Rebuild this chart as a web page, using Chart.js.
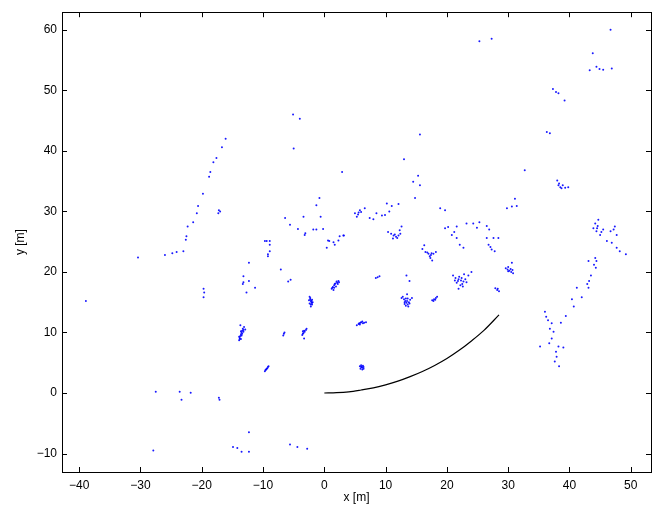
<!DOCTYPE html>
<html>
<head>
<meta charset="utf-8">
<script src="https://cdn.jsdelivr.net/npm/chart.js@4"></script>
<style>
html,body{margin:0;padding:0;background:#fff;}
#wrap{width:661px;height:510px;}
</style>
</head>
<body>
<div id="wrap"><canvas id="scanChart" width="661" height="510"></canvas></div>
<script>

/* DATA */

const xTicks = [-40,-30,-20,-10,0,10,20,30,40,50];
const yTicks = [-10,0,10,20,30,40,50,60];

// vehicle path
const pathX = [0,2,4,6,8,10,12,14,16,18,20,22,24,26,28.5];
const pathY = [0,0.05,0.2,0.5,0.85,1.35,1.95,2.7,3.55,4.55,5.7,7.05,8.6,10.3,12.9];

// scan points, left part
const scanLeft = [
[-38.9,15.2],[-30.4,22.4],[-26,22.8],[-24.8,23.1],[-24.1,23.3],[-23,23.4],
[-22.6,25.3],[-22.5,25.9],[-22.3,27.5],[-21.4,28.2],[-20.8,29.7],[-20.6,30.9],
[-19.8,32.9],[-18.8,35.7],[-18.6,36.5],[-18.1,38.1],[-17.6,38.8],[-16.7,40.6],[-16.1,42],
[-17.2,30.2],[-17.3,29.7],[-17,30],
[-19.7,17.2],[-19.6,16.6],[-19.7,15.8],
[-27.5,0.2],[-23.6,0.2],[-23.3,-1.1],[-21.8,0.05],[-17.2,-0.8],[-17.1,-1.1],
[-27.9,-9.5],[-14.9,-8.9],[-13.5,-9.7],[-12.3,-9.7],[-12.3,-6.5],[-5.6,-8.5],[-4.4,-8.9],[-2.8,-9.2],[-14.2,-9.1],
[-13.9,8.7],[-13.8,9.1],[-13.7,9.4],[-13.6,9.7],[-13.5,10],[-13.4,10.3],[-13.3,10.6],
[-13.1,10.9],[-13.6,8.9],[-13.2,10.1],[-12.9,10.5],[-13.7,11.2],
[-13.8,8.9],[-13.5,9.5],[-13.4,9.8],[-13.2,10.4],[-13.6,10.2],[-13.9,9.3],
[-9.7,3.6],[-9.5,3.9],[-9.3,4.1],[-9.1,4.4],[-9.6,3.8],[-9.4,4],[-9.2,4.3],
[-6.7,9.5],[-6.6,9.8],[-6.5,10],
[-3.6,9.6],[-3.4,9.9],[-3.2,10.1],[-3,10.4],[-3.5,10.2],[-2.9,10.6],[-3.3,9],[-3.3,10.3],[-3.5,9.8],
[-2.4,15.9],[-2.3,15.5],[-2.2,15.2],[-2.1,14.9],[-2,14.6],[-2.2,14.3],[-2,15.4],[-1.9,15],[-2.4,14.8],
[-2.3,15.7],[-2.1,15.2],[-2,14.9],[-2.2,14.6],[-2.5,15.3],
[-13.2,19.3],[-13.2,18.3],[-12.3,18.5],[-12.7,16.6],[-12.3,21.5],[-11.3,17.4],[-13.3,18],
[-9.7,25.1],[-8.9,25.1],[-9.4,25.1],[-8.9,24.5],[-9.2,22.9],[-8.9,23.4],[-9.2,22.6],
[-7.1,20.4],[-5.9,18.4],[-5.5,18.7],
[-5.1,46],[-4,45.3],[-5,40.4],
[-0.8,32.2],[-1.3,31],
[-6.4,28.9],[-5.6,27.8],[-4.3,27.1],[-3.4,29.1],[-3.2,26.1],[-3.1,26.4],[-0.6,29.1],[-1.8,27],[-1.3,27],[-0.2,27.1]
];

// scan points, middle part
const scanMid = [
[0.4,24],[0.6,25.2],[0.8,25.1],[1.5,24.9],[2.3,25.2],[3.1,26],[2.5,25.9],[3.2,26],[1.7,24.5],
[1.2,17.2],[1.4,17.5],[1.6,17.8],[1.8,18.1],[2,18.4],[2.2,18],[1.5,17],[2.3,18.5],[1.9,17.6],
[1.3,17.4],[1.7,18],[2.1,18.2],[1.6,17.4],[2.4,18.3],
[5.9,4],[6.1,4.3],[6.3,4.5],[6,4.6],[6.4,4],[6.2,3.9],[6,4.3],[6.2,4.2],[6.4,4.3],[5.8,4.4],
[5.3,11.2],[5.6,11.4],[5.9,11.6],[6.2,11.8],[6.5,11.6],[6.8,11.7],[5.8,11.3],[5.7,11.5],[6,11.7],[6.3,11.5],
[8.4,19],[8.7,19.1],[9,19.3],
[5,29.7],[5.8,30.2],[6.6,30.5],[5.3,29.1],[5.5,29.5],[5.6,29.8],[6,29.9],[7.4,28.9],[8,28.7],
[8.5,29.7],[9.4,29.3],[9.9,29.4],[10.2,31.3],[11,30.9],[12.1,31.2],[10.6,30],
[14.8,32.2],[15.6,34.3],[18.9,30.5],[19.7,30.2],
[13,38.6],[15.6,42.7],[14.5,34.9],[15.3,35.9],[2.9,36.5],
[10.4,26.6],[10.9,26.3],[11.3,26],[11.7,25.8],[12.1,26],[12.4,26.3],[11.2,25.5],[12.6,27.5],[12.3,26.9],[11.5,26.2],[11.9,25.6],
[13.4,19.4],[13.9,18.5],
[12.8,15.9],[13,15.5],[13.2,15.2],[13.4,14.9],[13.6,14.6],[13.8,15],[14,15.4],[14.3,15.7],
[13.3,14.4],[13.7,14.3],[12.6,15.7],[13.5,16.3],
[13.1,15],[13.5,15.2],[13.3,15.6],[13.9,14.8],[13.6,15.6],[13.1,14.7],
[17.6,15.3],[17.9,15.5],[18.2,15.7],[18.4,15.9],[17.8,15.2],[18.1,15.4],
[16,23.8],[16.5,23.3],[17,23],[17.4,22.8],[17.8,23],[18.2,23.3],[17.3,22.3],[17.6,21.9],[16.3,24.4],
[17.2,22.6],[17.5,23.1],[16.8,23.2],
[19.7,27.2],[20.2,27.4],[21.6,27.5],[20.8,26.1],[21.6,25.6],[22.1,24.5],[22.7,24],[21.2,26.6],
[23.2,28],[24.3,28],[25.3,28.2],[24.9,27.3],[26.5,27.6],[26.9,27],
[26.5,25.6],[27.6,25.6],[28.4,25.6],[26.8,24.5],[27.3,23.7],[27.8,23.4],[27.1,24.1],
[21,19.4],[21.4,19],[21.9,18.8],[22.3,18.6],[22.7,18.4],[23.2,18.3],[21.6,18.2],
[22.2,17.8],[21.9,17.2],[22.6,17.6],[24,20],[23.5,19.4],[22.8,19.6],
[21.8,18.5],[22.5,18],[22,19.2],[21.3,18.6],[23,18.8],[22.4,19],
[29.6,20.6],[29.9,20.4],[30.2,20.2],[30.5,20],[30.8,19.8],[30.6,21.5],[30,20.8],[30,20.1],[30.4,20.5],[30.7,20.3],
[27.9,17.3],[28.2,17],[28.5,16.8],[28.3,17.2],
[29.8,30.5],[30.6,30.8],[31.4,30.9],[31.1,32.1],
[25.3,58.1],[27.3,58.5]
];

// scan points, right part
const scanRight = [
[46.7,60],[43.8,56.1],[43.3,53.3],[44.4,53.9],[45.5,53.4],[46.9,53.6],[44.9,53.5],
[37.3,50.2],[37.8,49.7],[38.2,49.5],[39.2,48.3],
[36.3,43.1],[36.8,42.9],[32.7,36.8],
[38,35.1],[38.2,34.3],[38.7,33.8],[39.3,33.9],[39.8,34],[38.5,34],[38.3,34.6],[38.9,34.3],
[44.7,28.6],[44.2,28],[43.9,27.2],[44.4,26.7],[45,26.1],[45.5,27],[46.7,26.7],[47.2,27],
[47.4,27.5],[47.7,26.1],[46.1,25.1],[46.9,24.8],[47.7,24],[48.2,23.4],[49.2,22.9],[44.6,27.6],[44.5,27.2],[45.2,26.6],
[44.2,22.3],[44.4,21.8],[44,21.2],[44.3,20.7],[43.1,21.8],
[43.5,19.4],[43.2,18.5],[42.9,18],[43.1,17.4],[41.2,17.4],[42,15.8],
[40.4,15.5],[40.7,14.3],[39.4,12.7],[38.6,11.6],
[36,13.4],[36.2,12.6],[36.5,12],[37.1,11.5],[36.8,10.6],[37.4,10.1],[37.1,9],[36.7,8.2],[35.2,7.7],
[38.2,7.7],[39,7.5],[37.8,6.8],[37.9,6],[37.6,5.2],[38.3,4.4]
];

const scanPoints = scanLeft.concat(scanMid, scanRight).map(p => ({x: p[0], y: p[1]}));
const pathPoints = pathX.map((v, i) => ({x: v, y: pathY[i]}));

const minus = v => v < 0 ? '\u2212' + Math.abs(v) : String(v);


/* FRAME AND INWARD TICKS */

const frame = {
id: 'frame',
afterDraw(chart) {
const {ctx, chartArea: a, scales: {x, y}} = chart;
const t = 5;
ctx.save();
ctx.strokeStyle = '#000';
ctx.lineWidth = 1;
ctx.beginPath();
xTicks.forEach(v => {
const px = Math.round(x.getPixelForValue(v)) + 0.5;
ctx.moveTo(px, a.bottom); ctx.lineTo(px, a.bottom - t);
ctx.moveTo(px, a.top); ctx.lineTo(px, a.top + t);
});
yTicks.forEach(v => {
const py = Math.round(y.getPixelForValue(v)) + 0.5;
ctx.moveTo(a.left, py); ctx.lineTo(a.left + t, py);
ctx.moveTo(a.right, py); ctx.lineTo(a.right - t, py);
});
ctx.stroke();
ctx.strokeRect(Math.round(a.left) + 0.5, Math.round(a.top) + 0.5,
Math.round(a.right - a.left), Math.round(a.bottom - a.top));
ctx.restore();
}
};


/* CHART */

const font = {family: "'Liberation Sans', Arial, sans-serif", size: 12};

new Chart(
document.getElementById("scanChart"),
{
type: "scatter",
data: {
datasets: [
{
label: "scan",
data: scanPoints,
pointRadius: 1,
pointHoverRadius: 1,
borderWidth: 0,
backgroundColor: "rgba(0,0,255,0.9)"
},
{
label: "path",
type: "line",
data: pathPoints,
showLine: true,
borderColor: "#000",
borderWidth: 1.2,
pointRadius: 0,
tension: 0.4,
cubicInterpolationMode: "monotone",
fill: false
}
]
},
options: {
responsive: false,
animation: false,
events: [],
layout: {padding: {top: 6, right: 10, left: 0, bottom: 0}},
plugins: {legend: {display: false}, tooltip: {enabled: false}},
scales: {
x: {
type: "linear",
min: -42.8,
max: 53.3,
afterBuildTicks: s => { s.ticks = xTicks.map(v => ({value: v})); },
afterFit: s => { s.height = 38; },
grid: {display: false, drawTicks: false},
border: {display: false},
ticks: {color: "#000", font: font, padding: 6, maxRotation: 0, autoSkip: false, callback: minus},
title: {display: true, text: "x [m]", color: "#000", font: font, padding: {top: 0, bottom: 5}}
},
y: {
type: "linear",
min: -13.05,
max: 62.9,
afterBuildTicks: s => { s.ticks = yTicks.map(v => ({value: v})); },
afterFit: s => { s.width = 62; },
grid: {display: false, drawTicks: false},
border: {display: false},
ticks: {color: "#000", font: font, padding: 5, autoSkip: false, callback: minus},
title: {display: true, text: "y [m]", color: "#000", font: font, padding: {top: 13, bottom: 0}}
}
}
},
plugins: [frame]
}
);

</script>
</body>
</html>
